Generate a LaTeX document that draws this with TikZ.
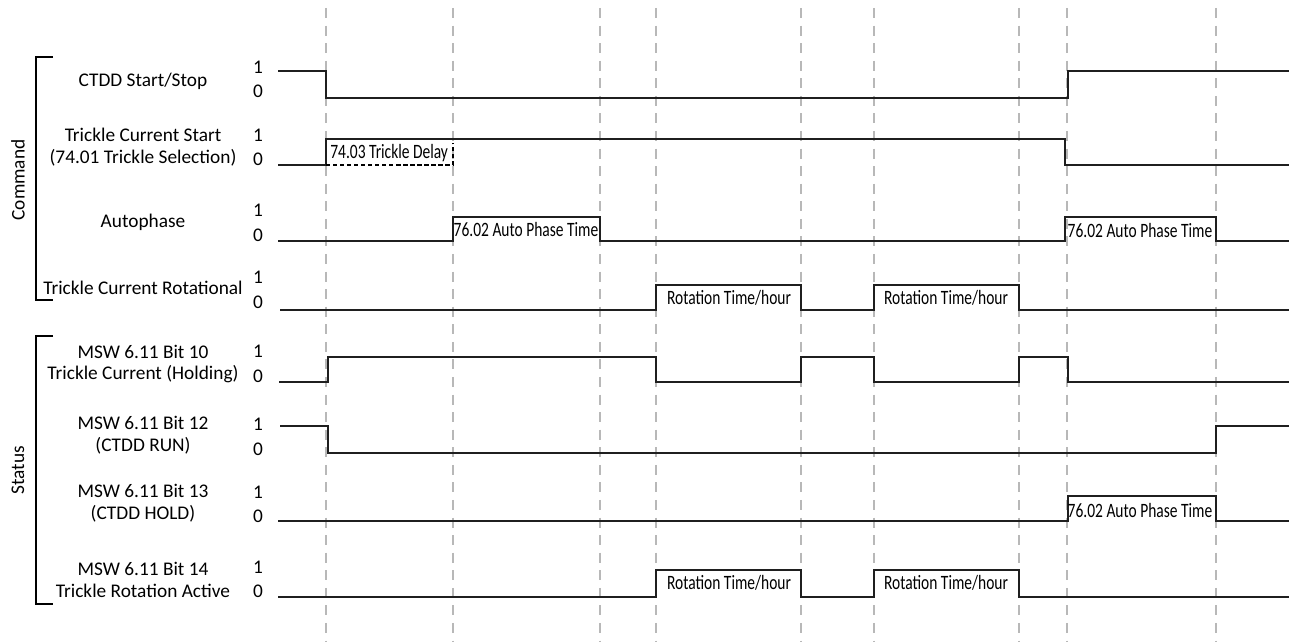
\documentclass[tikz,border=0pt]{standalone}
\usepackage{fontspec}
\setmainfont{Carlito}
\newfontfamily\narrowfont[FakeStretch=0.76]{Carlito}
\usepackage{tikz}
\usetikzlibrary{positioning}

\tikzset{
  sig/.style={line width=1.2pt, black!88},
  grid/.style={black!28, line width=0.6pt, dash pattern=on 5.7pt off 4.3pt},
  lbl/.style={font=\fontsize{11}{12.5}\selectfont, align=center, inner sep=0pt},
  lvl/.style={font=\fontsize{11}{12.5}\selectfont, inner sep=0pt},
  ptxt/.style={font=\narrowfont\fontsize{11.6}{12.5}\selectfont, inner sep=0pt},
}

\begin{document}
\begin{tikzpicture}[x=0.02cm, y=-0.02cm]
  \useasboundingbox (0,0) rectangle (1290,642);

  % time markers
  \foreach \t in {326,453,600,656,801,874,1019,1067,1216}
    \draw[grid] (\t,8) -- (\t,642);

  % group brackets
  \draw[line width=0.6pt] (53,57) -- (36,57) -- (36,300) -- (53,300);
  \draw[line width=0.6pt] (53,336) -- (36,336) -- (36,604) -- (53,604);
  \node[lbl, rotate=90] (cmd) at (18,180) {Command};
  \node[lbl, rotate=90] (stat) at (18,470) {Status};

  % signal names
  \node[lbl] (n1) at (143,81) {CTDD Start/Stop};
  \node[lbl] (n2) at (143,147) {Trickle Current Start\\(74.01 Trickle Selection)};
  \node[lbl] (n3) at (143,222) {Autophase};
  \node[lbl] (n4) at (143,288) {Trickle Current Rotational};
  \node[lbl] (n5) at (143,364) {MSW 6.11 Bit 10\\Trickle Current (Holding)};
  \node[lbl] (n6) at (143,435) {MSW 6.11 Bit 12\\(CTDD RUN)};
  \node[lbl] (n7) at (143,503) {MSW 6.11 Bit 13\\(CTDD HOLD)};
  \node[lbl] (n8) at (143,580) {MSW 6.11 Bit 14\\Trickle Rotation Active};

  % levels
  \foreach \hi/\lo [count=\i] in {67/91,135/159,210/235,277/302,351/376,424/449,492/516,567/591}{
    \node[lvl] (one\i) at (258,\hi) {1};
    \node[lvl] (zero\i) at (258,\lo) {0};
  }

  % command signals
  \draw[sig] (278,71) -| (326,98) -- (1068,98) |- (1289,71);
  \draw[sig] (278,165) -| (326,139) -- (1065,139) |- (1289,165);
  \draw[line width=1.1pt, dash pattern=on 2.4pt off 1.6pt] (326,165) -- (453,165) -- (453,143);
  \node[ptxt, anchor=west] (delay) at (330,153) {74.03 Trickle Delay};
  \draw[sig] (278,241) -| (453,217) -| (600,241) -| (1065,217) -| (1216,241) -- (1289,241);
  \node[ptxt] (ap1) at (526,230) {76.02 Auto Phase Time};
  \node[ptxt] (ap2) at (1140,231) {76.02 Auto Phase Time};
  \draw[sig] (280,310) -| (656,285) -| (801,310) -| (874,285) -| (1019,310) -- (1289,310);
  \node[ptxt] (rt1) at (729,298) {Rotation Time/hour};
  \node[ptxt] (rt2) at (946,298) {Rotation Time/hour};

  % status signals
  \draw[sig] (279,382) -| (328,357) -| (656,382) -| (801,357) -| (874,382) -| (1019,357) -| (1068,382) -- (1289,382);
  \draw[sig] (280,426) -| (328,453) -| (1216,426) -- (1289,426);
  \draw[sig] (278,521) -| (1068,496) -| (1216,521) -- (1289,521);
  \node[ptxt] (ap3) at (1140,510) {76.02 Auto Phase Time};
  \draw[sig] (278,597) -| (656,570) -| (801,597) -| (874,570) -| (1019,597) -- (1289,597);
  \node[ptxt] (rt3) at (729,583) {Rotation Time/hour};
  \node[ptxt] (rt4) at (946,583) {Rotation Time/hour};
\end{tikzpicture}
\end{document}
